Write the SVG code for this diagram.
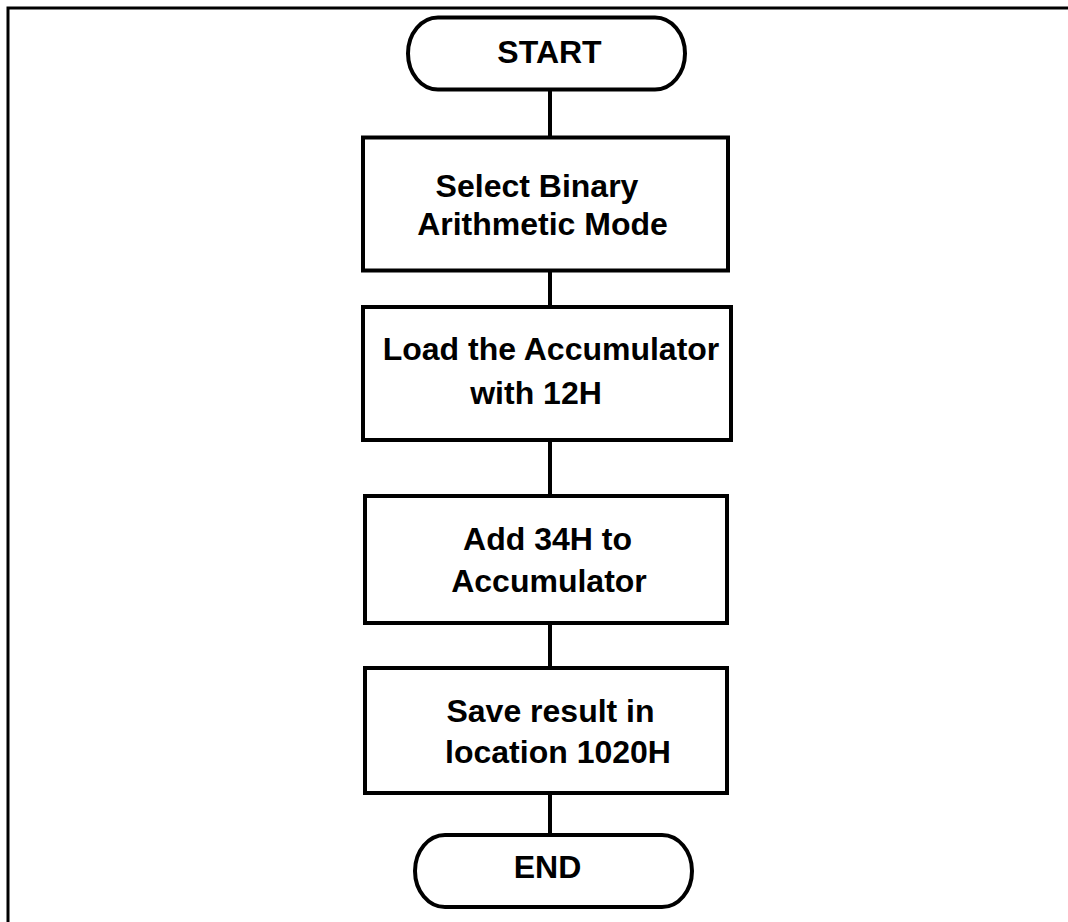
<svg xmlns="http://www.w3.org/2000/svg" width="1068" height="922" viewBox="0 0 1068 922">
<style>
.frame{fill:none;stroke:#000;stroke-width:3}
.box{fill:#fff;stroke:#000;stroke-width:4}
.conn{fill:none;stroke:#000;stroke-width:4}
.t{font-family:"Liberation Sans",Arial,sans-serif;font-weight:bold;font-size:32px;fill:#000;text-anchor:middle}
</style>
<rect width="1068" height="922" fill="#fff"/>
<path class="frame" d="M8,922 V8 H1068"/>
<g id="connectors">
<line class="conn" x1="550" y1="90" x2="550" y2="138"/>
<line class="conn" x1="550" y1="270" x2="550" y2="307"/>
<line class="conn" x1="550" y1="440" x2="550" y2="496"/>
<line class="conn" x1="550" y1="623" x2="550" y2="668"/>
<line class="conn" x1="550" y1="793" x2="550" y2="835"/>
</g>
<g id="start">
<rect class="box" x="408" y="17.5" width="277" height="72" rx="30" ry="36"/>
<text class="t" x="549.5" y="63">START</text>
</g>
<g id="select">
<rect class="box" x="363" y="137.5" width="365" height="133"/>
<text class="t" x="537" y="197">Select Binary</text>
<text class="t" x="542.5" y="235">Arithmetic Mode</text>
</g>
<g id="load">
<rect class="box" x="363" y="307" width="368" height="133"/>
<text class="t" x="551" y="360">Load the Accumulator</text>
<text class="t" x="536" y="404">with 12H</text>
</g>
<g id="add">
<rect class="box" x="365" y="496" width="362" height="127"/>
<text class="t" x="547.5" y="550">Add 34H to</text>
<text class="t" x="549" y="592">Accumulator</text>
</g>
<g id="save">
<rect class="box" x="365" y="668" width="362" height="125"/>
<text class="t" x="550.5" y="722">Save result in</text>
<text class="t" x="558" y="763">location 1020H</text>
</g>
<g id="end">
<rect class="box" x="415" y="835" width="277" height="72" rx="30" ry="36"/>
<text class="t" x="547.5" y="878">END</text>
</g>
</svg>
